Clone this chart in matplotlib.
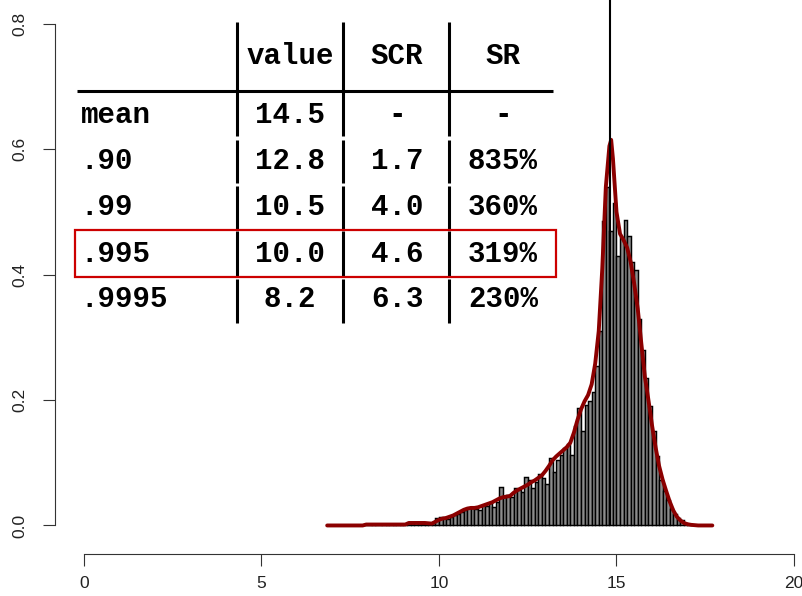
import matplotlib
matplotlib.use('Agg')
import matplotlib.pyplot as plt
import numpy as np
from matplotlib.patches import Rectangle

# --- histogram (density per 0.1 bin, first bin starts at 6.9) ---
first_bin = 6.9
bin_width = 0.1
density = [
    0.001,
    0, 0, 0, 0, 0, 0, 0, 0, 0,
    0.001, 0.001, 0.002, 0.001, 0.001, 0.002, 0.001, 0.002, 0.001, 0.002,
    0.001, 0.002, 0.004, 0.004, 0.005, 0.004, 0.003, 0.002, 0.003, 0.005,
    0.012, 0.013, 0.012, 0.011, 0.013, 0.016, 0.019, 0.022, 0.024, 0.028,
    0.028, 0.027, 0.024, 0.032, 0.031, 0.036, 0.030, 0.037, 0.061, 0.045,
    0.049,
    0.045, 0.060, 0.057, 0.054, 0.077, 0.072, 0.060, 0.069, 0.082, 0.075,
    0.066, 0.108, 0.086, 0.104, 0.112, 0.124, 0.130, 0.112, 0.158, 0.187,
    0.150, 0.192, 0.198, 0.213,
    0.255, 0.310, 0.485, 0.540, 0.470, 0.515, 0.430, 0.460, 0.487, 0.462,
    0.420, 0.408, 0.330, 0.280, 0.235, 0.190, 0.150, 0.110, 0.072, 0.055,
    0.040, 0.027, 0.019, 0.012, 0.008, 0.004, 0.002, 0.001,
]

# --- kernel density curve ---
curve_x = [6.85, 7.85, 7.95, 9.05, 9.15, 9.6, 9.8, 9.9, 10.0, 10.1, 10.2, 10.3,
           10.4, 10.5, 10.6, 10.7, 10.8, 10.9, 11.0, 11.1, 11.2, 11.3, 11.4,
           11.5, 11.6, 11.7, 11.8, 11.9, 12.0, 12.1, 12.2, 12.3, 12.4, 12.5,
           12.6, 12.7, 12.8, 12.9, 13.0, 13.1, 13.2, 13.3, 13.4, 13.5, 13.6,
           13.7, 13.8, 13.9, 14.0, 14.1, 14.2, 14.3, 14.4, 14.5, 14.6, 14.7,
           14.8, 14.85, 14.9, 15.0, 15.1, 15.2, 15.3, 15.4, 15.5, 15.6, 15.7,
           15.8, 15.9, 16.0, 16.1, 16.2, 16.3, 16.4, 16.5, 16.6, 16.7, 16.8,
           16.9, 17.0, 17.1, 17.3, 17.7]
curve_y = [0.0, 0.0, 0.0015, 0.0015, 0.004, 0.004, 0.003, 0.006, 0.009, 0.011,
           0.012, 0.014, 0.016, 0.019, 0.022, 0.025, 0.027, 0.028, 0.028, 0.029,
           0.031, 0.033, 0.035, 0.037, 0.040, 0.043, 0.045, 0.046, 0.047, 0.052,
           0.056, 0.059, 0.062, 0.065, 0.069, 0.072, 0.076, 0.080, 0.087, 0.095,
           0.104, 0.110, 0.115, 0.120, 0.125, 0.132, 0.148, 0.168, 0.185, 0.198,
           0.208, 0.225, 0.258, 0.310, 0.410, 0.540, 0.605, 0.615, 0.585, 0.500,
           0.465, 0.455, 0.443, 0.420, 0.385, 0.345, 0.290, 0.237, 0.200, 0.160,
           0.125, 0.095, 0.073, 0.055, 0.038, 0.024, 0.014, 0.008, 0.004, 0.002,
           0.001, 0.0, 0.0]

mode_value = 14.83

# --- quantile table ---
col_heads = ['value', 'SCR', 'SR']
row_labels = ['mean', '.90', '.99', '.995', '.9995']
values = ['14.5', '12.8', '10.5', '10.0', '8.2']
scr = ['-', '1.7', '4.0', '4.6', '6.3']
sr = ['-', '835%', '360%', '319%', '230%']

x_ticks = [0, 5, 10, 15, 20]
y_ticks = [0.0, 0.2, 0.4, 0.6, 0.8]

fig = plt.figure(figsize=(8.03, 5.96), dpi=100)
ax = fig.add_axes([55 / 803, 42 / 596, 748 / 803, 554 / 596])
ax.set_xlim(-0.817, 20.254)
ax.set_ylim(-0.0455, 0.838)

left_edges = first_bin + bin_width * np.arange(len(density))
ax.bar(left_edges, density, width=bin_width, align='edge', color='#8c8c8c',
       edgecolor='black', linewidth=1.05, zorder=2)
ax.plot(curve_x, curve_y, color='#8b0000', lw=2.8, solid_capstyle='round', zorder=3)
ax.vlines(mode_value, 0, 0.9, color='black', lw=1.5, zorder=4)

# R-style axes
for s in ['top', 'right']:
    ax.spines[s].set_visible(False)
for s in ['left', 'bottom']:
    ax.spines[s].set_linewidth(0.8)
    ax.spines[s].set_color('#333333')
ax.spines['left'].set_bounds(0, 0.8)
ax.spines['bottom'].set_bounds(0, 20)
ax.set_xticks(x_ticks)
ax.set_xticklabels([str(t) for t in x_ticks])
ax.set_yticks(y_ticks)
ax.set_yticklabels(['%.1f' % t for t in y_ticks])
ax.tick_params(length=8.6, width=0.8, labelsize=12.5, color='#333333')
ax.tick_params(axis='x', pad=7)
ax.tick_params(axis='y', pad=11, labelrotation=90)
for t in ax.get_xticklabels() + ax.get_yticklabels():
    t.set_fontfamily('Liberation Sans')
    t.set_color('#222222')
for t in ax.get_yticklabels():
    t.set_va('center')

# table
tfont = dict(family='Liberation Mono', weight='bold', size=21, color='black')
col_x = [5.80, 8.82, 11.80]
label_x = -0.09
head_y = 0.736
row_y = [0.642, 0.568, 0.495, 0.4207, 0.348]
for cx, h in zip(col_x, col_heads):
    ax.text(cx, head_y, h, ha='center', va='baseline', **tfont)
for i, lab in enumerate(row_labels):
    ax.text(label_x, row_y[i], lab, ha='left', va='baseline', **tfont)
    for cx, cell in zip(col_x, [values[i], scr[i], sr[i]]):
        ax.text(cx, row_y[i], cell, ha='center', va='baseline', **tfont)

sep_x = [4.31, 7.30, 10.28]
sep_segments = [(0.621, 0.803), (0.546, 0.615), (0.473, 0.541),
                (0.396, 0.470), (0.323, 0.393)]
for sx in sep_x:
    for y0, y1 in sep_segments:
        ax.plot([sx, sx], [y0, y1], color='black', lw=2.2, solid_capstyle='butt')
ax.plot([-0.197, 13.21], [0.6933, 0.6933], color='black', lw=2.2,
        solid_capstyle='butt')

ax.add_patch(Rectangle((-0.254, 0.3963), 13.554, 0.075, fill=False,
                       edgecolor='#cc0000', lw=1.6, zorder=5))

fig.savefig('out.png', dpi=100)
